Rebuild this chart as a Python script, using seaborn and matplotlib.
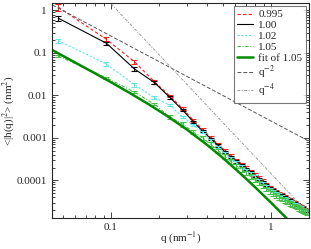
import numpy as np
import matplotlib
matplotlib.use("Agg")
import matplotlib.pyplot as plt
import matplotlib.ticker as mticker
import seaborn as sns

# wavevectors (nm^-1)
q = [0.0468, 0.0936, 0.1404, 0.1872, 0.234, 0.2808, 0.3276, 0.3744, 0.4212,
     0.468, 0.5148, 0.5616, 0.6084, 0.6552, 0.702, 0.7488, 0.7956, 0.8424,
     0.8892, 0.936, 0.9828, 1.0296, 1.0764, 1.1232, 1.17, 1.2168, 1.2636,
     1.3104, 1.3572, 1.404, 1.4508, 1.4976, 1.5444, 1.5912, 1.638, 1.6848]

h_0995 = [1.2, 0.21, 0.062, 0.021, 0.0097, 0.0049, 0.0026, 0.00156, 0.00103,
          7.1e-4, 5.1e-4, 3.8e-4, 3.0e-4, 2.45e-4, 2.0e-4, 1.66e-4, 1.38e-4,
          1.16e-4, 9.8e-5, 8.3e-5, 7.0e-5, 6.2e-5, 5.6e-5, 5.0e-5, 4.6e-5,
          4.2e-5, 3.85e-5, 3.55e-5, 3.3e-5, 3.05e-5, 2.8e-5, 2.6e-5, 2.45e-5,
          2.3e-5, 2.12e-5, 1.96e-5]
h_100 = [0.66, 0.17, 0.042, 0.020, 0.0089, 0.0045, 0.0024, 0.00144, 9.5e-4,
         6.6e-4, 4.7e-4, 3.5e-4, 2.8e-4, 2.3e-4, 1.86e-4, 1.55e-4, 1.29e-4,
         1.08e-4, 9.1e-5, 7.8e-5, 6.6e-5, 5.9e-5, 5.3e-5, 4.8e-5, 4.4e-5,
         4.0e-5, 3.7e-5, 3.4e-5, 3.15e-5, 2.9e-5, 2.7e-5, 2.5e-5, 2.35e-5,
         2.2e-5, 2.05e-5, 1.9e-5]
h_102 = [0.195, 0.055, 0.018, 0.0088, 0.0059, 0.0031, 0.0020, 0.00138, 8.7e-4,
         6.1e-4, 4.4e-4, 3.3e-4, 2.6e-4, 2.15e-4, 1.75e-4, 1.46e-4, 1.22e-4,
         1.02e-4, 8.7e-5, 7.4e-5, 6.3e-5, 5.6e-5, 5.05e-5, 4.6e-5, 4.2e-5,
         3.85e-5, 3.55e-5, 3.3e-5, 3.05e-5, 2.8e-5, 2.6e-5, 2.42e-5, 2.28e-5,
         2.14e-5, 2.0e-5, 1.87e-5]
h_105 = [0.085, 0.026, 0.012, 0.0062, 0.0031, 0.0021, 0.00138, 0.0010, 7.0e-4,
         5.0e-4, 3.7e-4, 2.8e-4, 2.2e-4, 1.8e-4, 1.48e-4, 1.23e-4, 1.03e-4,
         8.8e-5, 7.5e-5, 6.4e-5, 5.5e-5, 4.9e-5, 4.4e-5, 4.0e-5, 3.65e-5,
         3.35e-5, 3.1e-5, 2.9e-5, 2.7e-5, 2.5e-5, 2.35e-5, 2.2e-5, 2.08e-5,
         1.97e-5, 1.87e-5, 1.78e-5]

# relative error bars
rel_0995 = [0.17, 0.1, 0.12, 0.1] + [0.07] * 32
rel_100 = [0.15, 0.09, 0.1, 0.08] + [0.06] * 32
rel_102 = [0.1, 0.1, 0.1, 0.08] + [0.07] * 32
rel_105 = [0.06, 0.06, 0.06, 0.06] + [0.12] * 32

# fit of 1.05
q_fit = [0.043, 0.06, 0.08, 0.1, 0.13, 0.17, 0.22, 0.3, 0.4, 0.5, 0.65, 0.8,
         1.0, 1.2, 1.4]
h_fit = [0.117, 0.059, 0.0327, 0.0205, 0.01165, 0.00637, 0.00345, 0.00155,
         6.8e-4, 3.4e-4, 1.41e-4, 6.8e-5, 3.0e-5, 1.51e-5, 8.4e-6]

# guide lines
q_guide = [0.04, 2.0]
h_q2 = [1.5625, 6.25e-4]
h_q4 = [56.6, 9.06e-6]

sns.set_style("ticks")
plt.rcParams['font.family'] = ['Liberation Serif', 'DejaVu Serif']
plt.rcParams['mathtext.fontset'] = 'stix'
plt.rcParams['font.size'] = 8

fig = plt.figure(figsize=(3.11, 2.49), dpi=100)
ax = fig.add_axes([0.167, 0.1245, 0.8266, 0.8635])

series = [
    ("0.995", h_0995, rel_0995, "#ff2020", (0, (3, 2))),
    ("1.00", h_100, rel_100, "#000000", "-"),
    ("1.02", h_102, rel_102, "#5ee6e6", (0, (2, 1.5))),
    ("1.05", h_105, rel_105, "#44c044", (0, (3, 1.5, 1, 1.5))),
]
for label, vals, rel, col, ls in series:
    err = np.array(vals) * np.array(rel)
    ax.errorbar(q, vals, yerr=err, fmt='none', ecolor=col, elinewidth=0.8,
                capsize=2.0, capthick=0.8)
    sns.lineplot(x=q, y=vals, ax=ax, color=col, linestyle=ls, linewidth=0.8,
                 label=label, sort=False)

sns.lineplot(x=q_fit, y=h_fit, ax=ax, color="#008b00", linewidth=1.8,
             label="fit of 1.05", sort=False)
sns.lineplot(x=q_guide, y=h_q2, ax=ax, color="#555555", linewidth=0.7,
             linestyle=(0, (4, 2)), label="q$^{-2}$", sort=False)
sns.lineplot(x=q_guide, y=h_q4, ax=ax, color="#999999", linewidth=0.7,
             linestyle=(0, (3, 1.5, 1, 1.5)), label="q$^{-4}$", sort=False)

ax.set_xscale("log")
ax.set_yscale("log")
ax.set_xlim(0.0428, 1.73)
ax.set_ylim(1.3e-5, 1.5)

fmt = mticker.FuncFormatter(lambda v, p: "%g" % v)
ax.xaxis.set_major_formatter(fmt)
ax.yaxis.set_major_formatter(fmt)
ax.xaxis.set_minor_formatter(mticker.NullFormatter())
ax.yaxis.set_major_locator(mticker.LogLocator(base=10, numticks=10))
ax.yaxis.set_minor_locator(mticker.LogLocator(base=10, subs=np.arange(2, 10), numticks=20))
ax.tick_params(which="both", direction="in", top=True, right=True, labelsize=8, width=0.6)
ax.tick_params(which="major", length=4)
ax.tick_params(which="minor", length=2)
for s in ax.spines.values():
    s.set_linewidth(0.8)

ax.set_xlabel("q (nm$^{-1}$)", fontsize=8)
ax.set_ylabel("<|h(q)|$^2$> (nm$^2$)", fontsize=8)
ax.xaxis.set_label_coords(0.5, -0.06)
ax.yaxis.set_label_coords(-0.135, 0.5)

leg = ax.legend(loc="upper right", fontsize=8, frameon=True, fancybox=False,
                handlelength=1.4, handletextpad=0.5, borderpad=0.3,
                labelspacing=0.1, borderaxespad=0.3)
leg.get_frame().set_edgecolor("#555555")
leg.get_frame().set_linewidth(0.8)

fig.savefig("out.png", dpi=100)
